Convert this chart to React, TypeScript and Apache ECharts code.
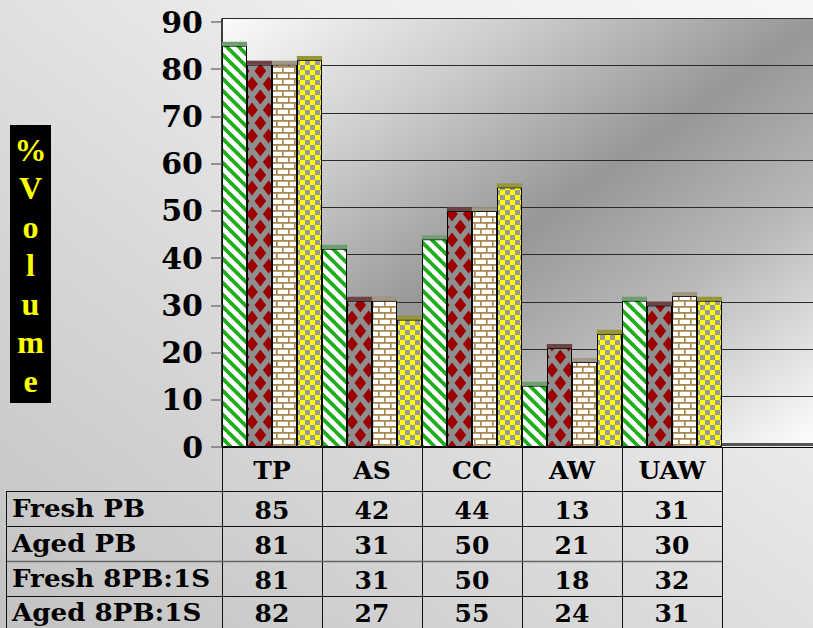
import React, { useEffect, useRef } from 'react';
import * as echarts from 'echarts';

const categories = ['TP', 'AS', 'CC', 'AW', 'UAW', ''];
const seriesNames = ['Fresh PB', 'Aged PB', 'Fresh 8PB:1S', 'Aged 8PB:1S'];
const freshPB = [85, 42, 44, 13, 31, null];
const agedPB = [81, 31, 50, 21, 30, null];
const fresh8PB1S = [81, 31, 50, 18, 32, null];
const aged8PB1S = [82, 27, 55, 24, 31, null];
const seriesValues = [freshPB, agedPB, fresh8PB1S, aged8PB1S];
const yMin = 0;
const yMax = 90;
const yInterval = 10;
const axisTitle = ['%', 'V', 'o', 'l', 'u', 'm', 'e'];

const SERIF = '"DejaVu Serif", serif';

function makeCanvas(w: number, h: number, draw: (ctx: CanvasRenderingContext2D) => void, dark: boolean) {
  const c = document.createElement('canvas');
  c.width = w;
  c.height = h;
  const ctx = c.getContext('2d') as CanvasRenderingContext2D;
  draw(ctx);
  if (dark) {
    ctx.fillStyle = 'rgba(0,0,0,0.25)';
    ctx.fillRect(0, 0, w, h);
  }
  return { image: c.toDataURL(), repeat: 'repeat', imageWidth: w, imageHeight: h } as any;
}

function stripes(dark: boolean) {
  const s = 12;
  return makeCanvas(s, s, (ctx) => {
    ctx.fillStyle = '#ffffff';
    ctx.fillRect(0, 0, s, s);
    ctx.strokeStyle = '#1fae1f';
    ctx.lineWidth = 3.8;
    for (const k of [-s, 0, s]) {
      ctx.beginPath();
      ctx.moveTo(k - 1, -1);
      ctx.lineTo(k + s + 1, s + 1);
      ctx.stroke();
    }
  }, dark);
}

function diamonds(dark: boolean) {
  const w = 50, h = 26;
  const px = w / 3;
  return makeCanvas(w, h, (ctx) => {
    ctx.fillStyle = '#8f8f8f';
    ctx.fillRect(0, 0, w, h);
    ctx.fillStyle = '#9c0000';
    const pts: number[][] = [];
    for (let j = -1; j <= 3; j++) {
      for (const dy of [-h, 0, h]) {
        pts.push([2 + px * j, 6 + dy]);
        pts.push([2 + px * j + px / 2, 6 + h / 2 + dy]);
      }
    }
    for (const [cx, cy] of pts) {
      ctx.beginPath();
      ctx.moveTo(cx, cy - 7.5);
      ctx.lineTo(cx + 5.8, cy);
      ctx.lineTo(cx, cy + 7.5);
      ctx.lineTo(cx - 5.8, cy);
      ctx.closePath();
      ctx.fill();
    }
  }, dark);
}

function bricks(dark: boolean) {
  const w = 12, h = 12;
  return makeCanvas(w, h, (ctx) => {
    ctx.fillStyle = '#ffffff';
    ctx.fillRect(0, 0, w, h);
    ctx.strokeStyle = '#a8874f';
    ctx.lineWidth = 1.7;
    ctx.beginPath();
    ctx.moveTo(0, 0.8); ctx.lineTo(w, 0.8);
    ctx.moveTo(0, 6.8); ctx.lineTo(w, 6.8);
    ctx.moveTo(0.8, 0); ctx.lineTo(0.8, 6.8);
    ctx.moveTo(6.8, 6.8); ctx.lineTo(6.8, h);
    ctx.stroke();
  }, dark);
}

function checker(dark: boolean) {
  const s = 10;
  return makeCanvas(s, s, (ctx) => {
    ctx.fillStyle = '#ffff00';
    ctx.fillRect(0, 0, s, s);
    ctx.fillStyle = '#999999';
    ctx.fillRect(s / 2, 0, s / 2, s / 2);
    ctx.fillRect(0, s / 2, s / 2, s / 2);
  }, dark);
}

export default function App() {
  const ref = useRef<HTMLDivElement>(null);

  useEffect(() => {
    if (!ref.current) return;
    const chart = echarts.init(ref.current, undefined, { renderer: 'svg' });

    const fills = [stripes(false), diamonds(false), bricks(false), checker(false)];
    const caps = [stripes(true), diamonds(true), bricks(true), checker(true)];

    const plotLeft = 222;
    const plotTop = 22;
    const plotHeight = 425;
    const bandWidth = 100;
    const plotWidth = bandWidth * categories.length;
    const axisY = plotTop + plotHeight;
    const headerH = 46;
    const rowH = 35;
    const pageW = 813;
    const pageH = 628;

    const bars: any[] = seriesValues.map((vals, i) => ({
      name: seriesNames[i],
      type: 'bar',
      xAxisIndex: 0,
      yAxisIndex: 0,
      data: vals,
      barGap: '0%',
      barCategoryGap: '0%',
      itemStyle: { color: fills[i], borderColor: '#000', borderWidth: 1 },
      z: 2,
    }));
    const tops: any[] = seriesValues.map((vals, i) => ({
      name: seriesNames[i] + ' top',
      type: 'pictorialBar',
      xAxisIndex: 0,
      yAxisIndex: 0,
      data: vals,
      barGap: '0%',
      barCategoryGap: '0%',
      symbol: 'rect',
      symbolSize: ['100%', 4],
      symbolPosition: 'end',
      symbolOffset: [0, '-100%'],
      itemStyle: { color: caps[i], borderColor: '#000', borderWidth: 1 },
      silent: true,
      z: 3,
    }));

    const rowCenters = seriesNames.map((_, i) => axisY + headerH + rowH * i + rowH / 2);
    const rowLines = seriesNames.map((_, i) => axisY + headerH + rowH * i - 2.5);

    const graphics: any[] = [];
    rowLines.forEach((y, i) => {
      graphics.push({
        type: 'line',
        shape: { x1: 6, y1: Math.round(y) + 0.5, x2: plotLeft + bandWidth * 5, y2: Math.round(y) + 0.5 },
        style: { stroke: i === 2 ? '#666' : '#111', lineWidth: i === 2 ? 1.5 : 1 },
        z: 10,
      });
    });
    graphics.push({
      type: 'line',
      shape: { x1: 6.5, y1: Math.round(rowLines[0]), x2: 6.5, y2: pageH },
      style: { stroke: '#111', lineWidth: 1 },
      z: 10,
    });
    seriesNames.forEach((name, i) => {
      graphics.push({
        type: 'text',
        x: 12,
        y: rowCenters[i] - 2 - (i === seriesNames.length - 1 ? 1 : 0),
        scaleX: 1.09,
        style: {
          text: name,
          fill: '#000',
          font: 'bold 24px ' + SERIF,
          textVerticalAlign: 'middle',
          textAlign: 'left',
        },
        z: 10,
      });
    });
    graphics.push({
      type: 'line',
      shape: { x1: plotLeft + bandWidth * 5, y1: 444.5, x2: pageW, y2: 444.5 },
      style: { stroke: '#555', lineWidth: 3 },
      z: 1,
    });
    graphics.push({
      type: 'line',
      shape: { x1: plotLeft, y1: 18.5, x2: plotLeft, y2: plotTop },
      style: { stroke: '#000', lineWidth: 1.5 },
      z: 5,
    });
    graphics.push({
      type: 'rect',
      shape: { x: 10, y: 125, width: 41, height: 278 },
      style: { fill: '#000' },
      z: 10,
    });
    graphics.push({
      type: 'text',
      x: 30.5,
      y: 265,
      style: {
        text: axisTitle.join('\n'),
        fill: '#ffff00',
        font: 'bold 32px "Liberation Serif", serif',
        lineHeight: 38.5,
        textAlign: 'center',
        textVerticalAlign: 'middle',
      },
      z: 11,
    });

    const lastIdx = seriesValues.length - 1;

    chart.setOption({
      animation: false,
      backgroundColor: 'transparent',
      grid: [
        { left: plotLeft, top: plotTop, width: plotWidth, height: plotHeight, show: false },
        {
          left: plotLeft,
          top: plotTop - 3.5,
          width: plotWidth,
          height: plotHeight,
          show: true,
          borderWidth: 0,
          backgroundColor: new echarts.graphic.LinearGradient(0, 0, 1, 1, [
            { offset: 0, color: '#fbfbfb' },
            { offset: 0.25, color: '#cdcdcd' },
            { offset: 0.5, color: '#979797' },
            { offset: 0.7, color: '#b8b8b8' },
            { offset: 1, color: '#ffffff' },
          ]),
        },
      ],
      xAxis: [
        {
          type: 'category',
          gridIndex: 0,
          data: categories,
          boundaryGap: true,
          axisLine: { show: true, lineStyle: { color: '#000', width: 1 } },
          axisTick: { show: true, interval: 0, length: pageH - axisY, lineStyle: { color: '#111', width: 1 } },
          axisLabel: {
            interval: 0,
            margin: 0,
            formatter: (value: string, idx: number) => {
              if (!value) return '';
              return ['{h|' + value + '}']
                .concat(seriesValues.map((s, k) => (k === lastIdx ? '{w|' : '{v|') + s[idx] + '}'))
                .join('\n');
            },
            rich: {
              h: { fontFamily: SERIF, fontWeight: 'bold', fontSize: 25, lineHeight: headerH, color: '#000' },
              v: { fontFamily: SERIF, fontWeight: 'bold', fontSize: 25, lineHeight: rowH, color: '#000' },
              w: { fontFamily: SERIF, fontWeight: 'bold', fontSize: 25, lineHeight: 30, color: '#000' },
            },
          },
          splitLine: { show: false },
        },
        { type: 'category', gridIndex: 1, data: categories, show: false },
      ],
      yAxis: [
        {
          type: 'value',
          gridIndex: 0,
          min: yMin,
          max: yMax,
          interval: yInterval,
          axisLine: { show: true, lineStyle: { color: '#000', width: 1.5 } },
          axisTick: { show: true, length: 11, lineStyle: { color: '#777', width: 1.5 } },
          axisLabel: { margin: 19, color: '#000', fontFamily: SERIF, fontWeight: 'bold', fontSize: 30 },
          splitLine: { show: false },
        },
        {
          type: 'value',
          gridIndex: 1,
          min: yMin,
          max: yMax,
          interval: yInterval,
          axisLine: { show: false },
          axisTick: { show: false },
          axisLabel: { show: false },
          splitLine: { show: true, lineStyle: { color: '#2a2a2a', width: 1 } },
        },
      ],
      series: [...bars, ...tops],
      graphic: graphics,
    });

    return () => chart.dispose();
  }, []);

  return (
    <div
      style={{
        position: 'fixed',
        left: 0,
        top: 0,
        width: 813,
        height: 628,
        overflow: 'hidden',
        background: 'linear-gradient(to top right, #c2c2c2 0%, #dadada 40%, #eeeeee 70%, #f6f6f6 100%)',
      }}
    >
      <div ref={ref} style={{ width: 830, height: 628 }} />
    </div>
  );
}
